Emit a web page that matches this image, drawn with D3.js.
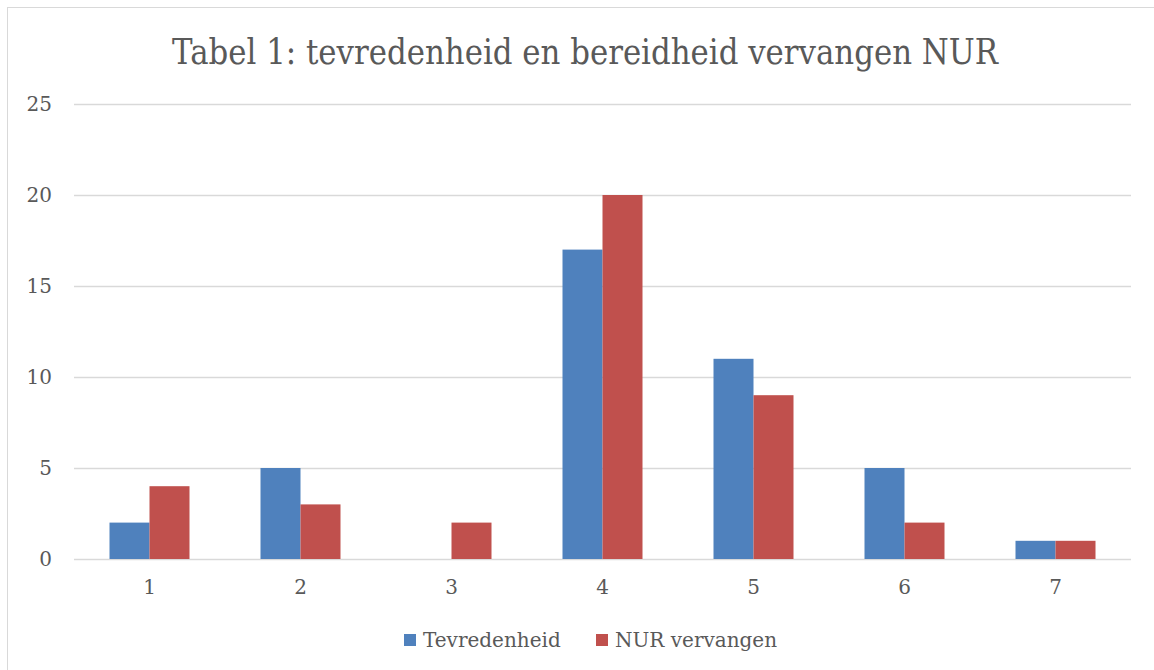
<!DOCTYPE html>
<html>
<head>
<meta charset="utf-8">
<script src="https://cdn.jsdelivr.net/npm/d3@7"></script>
<style>
  body { margin: 0; background: #fff; }
  text { font-family: "DejaVu Serif", "Liberation Serif", serif; fill: #595959; }
</style>
</head>
<body>
<div id="chart"></div>
<script>
var categories = ['1', '2', '3', '4', '5', '6', '7'];
var seriesNames = ['Tevredenheid', 'NUR vervangen'];
var tevredenheid = [2, 5, 0, 17, 11, 5, 1];
var nurVervangen = [4, 3, 2, 20, 9, 2, 1];
var yTicks = [0, 5, 10, 15, 20, 25];
var colors = ['#4f81bd', '#c0504d'];

var svgWidth = 1154;
var svgHeight = 670;
var margin = { top: 104, bottom: 111, left: 74, right: 23 };
var width = svgWidth - margin.left - margin.right;
var height = svgHeight - margin.top - margin.bottom;

var svg = d3.select('#chart')
    .append('svg')
    .attr('width', svgWidth)
    .attr('height', svgHeight);

// chart border
svg.append('rect')
    .attr('x', 7.5)
    .attr('y', 7.5)
    .attr('width', svgWidth)
    .attr('height', svgHeight)
    .attr('fill', 'none')
    .attr('stroke', '#d9d9d9');

svg.append('text')
    .attr('x', 585)
    .attr('y', 64)
    .attr('text-anchor', 'middle')
    .attr('font-size', 36)
    .attr('textLength', 826)
    .attr('lengthAdjust', 'spacingAndGlyphs')
    .text('Tabel 1: tevredenheid en bereidheid vervangen NUR');

var chartGroup = svg.append('g')
    .attr('transform', `translate(${margin.left}, ${margin.top})`);

var x0 = d3.scaleBand().domain(categories).range([0, width]);
var x1 = d3.scaleBand().domain(seriesNames)
    .range([x0.bandwidth() / 2 - 40, x0.bandwidth() / 2 + 40]);
var y = d3.scaleLinear().domain([0, 25]).range([height, 0]);

// gridlines + y labels
var yAxis = d3.axisLeft(y).tickValues(yTicks).tickSize(-width).tickPadding(22);
var yg = chartGroup.append('g').call(yAxis);
yg.select('.domain').remove();
yg.selectAll('line').attr('stroke', '#d9d9d9').attr('stroke-width', 1.5);
yg.selectAll('text').attr('font-size', 20).attr('fill', '#595959');

var xAxis = d3.axisBottom(x0).tickSize(0).tickPadding(21);
var xg = chartGroup.append('g')
    .attr('transform', `translate(0,${height})`)
    .call(xAxis);
xg.select('.domain').remove();
xg.selectAll('text').attr('font-size', 20).attr('fill', '#595959');

var rows = categories.map((c, i) => ({
    cat: c,
    vals: [
        { name: seriesNames[0], v: tevredenheid[i] },
        { name: seriesNames[1], v: nurVervangen[i] }
    ]
}));

chartGroup.selectAll('g.cat')
    .data(rows)
    .enter()
    .append('g')
    .attr('class', 'cat')
    .attr('transform', d => `translate(${x0(d.cat)},0)`)
    .selectAll('rect')
    .data(d => d.vals)
    .enter()
    .append('rect')
    .attr('x', d => x1(d.name))
    .attr('width', x1.bandwidth())
    .attr('y', d => y(d.v))
    .attr('height', d => height - y(d.v))
    .attr('fill', (d, i) => colors[i]);

// legend
var legendX = [404, 596];
var legend = svg.selectAll('g.legend')
    .data(seriesNames)
    .enter()
    .append('g')
    .attr('class', 'legend')
    .attr('transform', (d, i) => `translate(${legendX[i]}, 634)`);
legend.append('rect')
    .attr('width', 12)
    .attr('height', 12)
    .attr('fill', (d, i) => colors[i]);
legend.append('text')
    .attr('x', 19)
    .attr('y', 13)
    .attr('font-size', 20)
    .text(d => d);
</script>
</body>
</html>
